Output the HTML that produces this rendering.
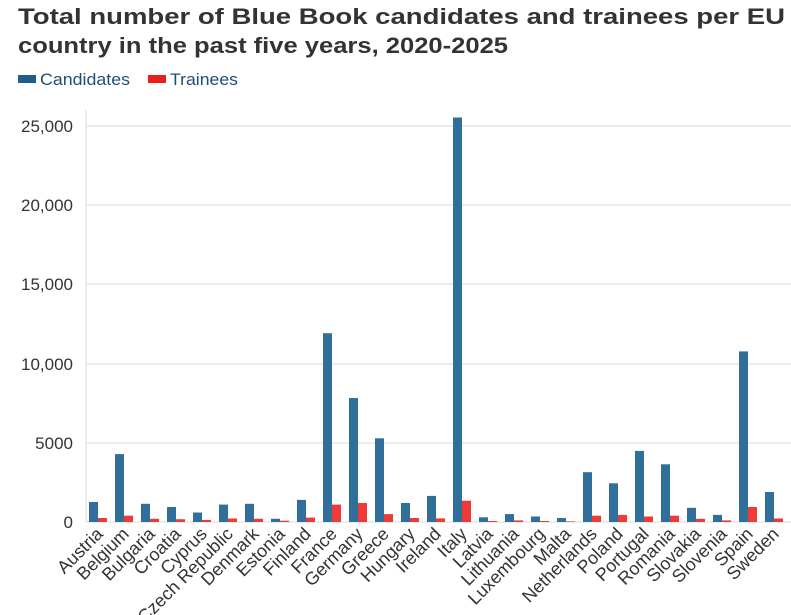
<!DOCTYPE html>
<html><head><meta charset="utf-8"><style>
body{margin:0;background:#fff;}
svg{display:block;font-family:"Liberation Sans","DejaVu Sans",sans-serif;}
</style></head><body>
<svg width="791" height="615" viewBox="0 0 791 615" xmlns="http://www.w3.org/2000/svg">
<text x="18" y="24" font-size="22.5" font-weight="bold" fill="#333" textLength="767" lengthAdjust="spacingAndGlyphs">Total number of Blue Book candidates and trainees per EU</text>
<text x="18" y="53" font-size="22.5" font-weight="bold" fill="#333" textLength="490" lengthAdjust="spacingAndGlyphs">country in the past five years, 2020-2025</text>
<rect x="18" y="75" width="18" height="8" fill="#1f5d8c"/>
<text x="40" y="85" font-size="17" fill="#1f4e79" textLength="90" lengthAdjust="spacingAndGlyphs">Candidates</text>
<rect x="148" y="75" width="18" height="8" fill="#e8201c"/>
<text x="170" y="85" font-size="17" fill="#1f4e79" textLength="68" lengthAdjust="spacingAndGlyphs">Trainees</text>
<g stroke="#e6e6e6" stroke-width="1.5">
<line x1="86" y1="126" x2="791" y2="126"/>
<line x1="86" y1="205" x2="791" y2="205"/>
<line x1="86" y1="284" x2="791" y2="284"/>
<line x1="86" y1="364" x2="791" y2="364"/>
<line x1="86" y1="443" x2="791" y2="443"/>
<line x1="86" y1="522" x2="791" y2="522"/>
<line x1="86" y1="110" x2="86" y2="522"/>
</g>
<g font-size="17" fill="#333" text-anchor="end">
<text x="73" y="132">25,000</text>
<text x="73" y="211">20,000</text>
<text x="73" y="290">15,000</text>
<text x="73" y="370">10,000</text>
<text x="73" y="449">5000</text>
<text x="73" y="528">0</text>
</g>
<g fill="#2f6f9a">
<rect x="89" y="502" width="9" height="20"/>
<rect x="115" y="454.1" width="9" height="67.9"/>
<rect x="141" y="503.8" width="9" height="18.2"/>
<rect x="167" y="507" width="9" height="15"/>
<rect x="193" y="512.5" width="9" height="9.5"/>
<rect x="219" y="504.6" width="9" height="17.4"/>
<rect x="245" y="503.8" width="9" height="18.2"/>
<rect x="271" y="518.8" width="9" height="3.2"/>
<rect x="297" y="499.9" width="9" height="22.1"/>
<rect x="323" y="333.2" width="9" height="188.8"/>
<rect x="349" y="398" width="9" height="124"/>
<rect x="375" y="438.3" width="9" height="83.7"/>
<rect x="401" y="503" width="9" height="19"/>
<rect x="427" y="495.9" width="9" height="26.1"/>
<rect x="453" y="117.5" width="9" height="404.5"/>
<rect x="479" y="517.3" width="9" height="4.7"/>
<rect x="505" y="514.1" width="9" height="7.9"/>
<rect x="531" y="516.5" width="9" height="5.5"/>
<rect x="557" y="518" width="9" height="4"/>
<rect x="583" y="472.2" width="9" height="49.8"/>
<rect x="609" y="483.3" width="9" height="38.7"/>
<rect x="635" y="450.9" width="9" height="71.1"/>
<rect x="661" y="464.3" width="9" height="57.7"/>
<rect x="687" y="507.8" width="9" height="14.2"/>
<rect x="713" y="514.9" width="9" height="7.1"/>
<rect x="739" y="351.4" width="9" height="170.6"/>
<rect x="765" y="492" width="9" height="30"/>
</g>
<g fill="#ef3b36">
<rect x="98" y="518" width="9" height="4"/>
<rect x="124" y="515.7" width="9" height="6.3"/>
<rect x="150" y="518.8" width="9" height="3.2"/>
<rect x="176" y="519.2" width="9" height="2.8"/>
<rect x="202" y="519.9" width="9" height="2.1"/>
<rect x="228" y="518.5" width="9" height="3.5"/>
<rect x="254" y="518.8" width="9" height="3.2"/>
<rect x="280" y="520.7" width="9" height="1.3"/>
<rect x="306" y="517.6" width="9" height="4.4"/>
<rect x="332" y="504.6" width="9" height="17.4"/>
<rect x="358" y="503" width="9" height="19"/>
<rect x="384" y="514.1" width="9" height="7.9"/>
<rect x="410" y="518" width="9" height="4"/>
<rect x="436" y="518.4" width="9" height="3.6"/>
<rect x="462" y="500.7" width="9" height="21.3"/>
<rect x="488" y="521" width="9" height="1"/>
<rect x="514" y="520.4" width="9" height="1.6"/>
<rect x="540" y="521" width="9" height="1"/>
<rect x="566" y="521.4" width="9" height="0.6"/>
<rect x="592" y="515.7" width="9" height="6.3"/>
<rect x="618" y="514.9" width="9" height="7.1"/>
<rect x="644" y="516.5" width="9" height="5.5"/>
<rect x="670" y="515.7" width="9" height="6.3"/>
<rect x="696" y="518.8" width="9" height="3.2"/>
<rect x="722" y="520.4" width="9" height="1.6"/>
<rect x="748" y="507" width="9" height="15"/>
<rect x="774" y="518.5" width="9" height="3.5"/>
</g>
<g font-size="18" fill="#333" text-anchor="end">
<text transform="translate(104,535) rotate(-45)">Austria</text>
<text transform="translate(130,535) rotate(-45)">Belgium</text>
<text transform="translate(156,535) rotate(-45)">Bulgaria</text>
<text transform="translate(182,535) rotate(-45)">Croatia</text>
<text transform="translate(208,535) rotate(-45)">Cyprus</text>
<text transform="translate(234,535) rotate(-45)">Czech Republic</text>
<text transform="translate(260,535) rotate(-45)">Denmark</text>
<text transform="translate(286,535) rotate(-45)">Estonia</text>
<text transform="translate(312,535) rotate(-45)">Finland</text>
<text transform="translate(338,535) rotate(-45)">France</text>
<text transform="translate(364,535) rotate(-45)">Germany</text>
<text transform="translate(390,535) rotate(-45)">Greece</text>
<text transform="translate(416,535) rotate(-45)">Hungary</text>
<text transform="translate(442,535) rotate(-45)">Ireland</text>
<text transform="translate(468,535) rotate(-45)">Italy</text>
<text transform="translate(494,535) rotate(-45)">Latvia</text>
<text transform="translate(520,535) rotate(-45)">Lithuania</text>
<text transform="translate(546,535) rotate(-45)">Luxembourg</text>
<text transform="translate(572,535) rotate(-45)">Malta</text>
<text transform="translate(598,535) rotate(-45)">Netherlands</text>
<text transform="translate(624,535) rotate(-45)">Poland</text>
<text transform="translate(650,535) rotate(-45)">Portugal</text>
<text transform="translate(676,535) rotate(-45)">Romania</text>
<text transform="translate(702,535) rotate(-45)">Slovakia</text>
<text transform="translate(728,535) rotate(-45)">Slovenia</text>
<text transform="translate(754,535) rotate(-45)">Spain</text>
<text transform="translate(780,535) rotate(-45)">Sweden</text>
</g>
</svg>
</body></html>
